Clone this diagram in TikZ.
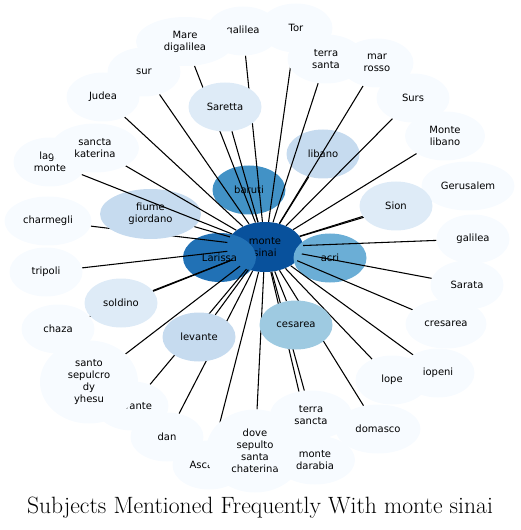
\documentclass[tikz,border=0pt]{standalone}
\usepackage{fontspec}
\newfontfamily\labelfont{DejaVu Sans}
\usetikzlibrary{shapes.geometric}

\definecolor{blues0}{RGB}{247,251,255}
\definecolor{blues1}{RGB}{222,235,247}
\definecolor{blues2}{RGB}{198,219,239}
\definecolor{blues3}{RGB}{158,202,225}
\definecolor{blues4}{RGB}{107,174,214}
\definecolor{blues5}{RGB}{66,146,198}
\definecolor{blues6}{RGB}{33,113,181}
\definecolor{blues7}{RGB}{8,81,156}

\pgfdeclarelayer{back}
\pgfdeclarelayer{links}
\pgfsetlayers{back,links,main}

\tikzset{
	bubble/.style={ellipse, inner sep=0pt, minimum width=54.75pt, minimum height=36.75pt, align=center, text=black, font=\labelfont\fontsize{7.5}{9}\selectfont},
	big/.style={minimum width=73.5pt, minimum height=62.25pt},
	link/.style={line width=0.8pt, black},
}

\begin{document}
\begin{tikzpicture}[x=0.75pt,y=0.75pt,yscale=-1,xscale=1]
	\useasboundingbox (0,0) rectangle (520,530);
	
	% Nodes under the lines
	\begin{pgfonlayer}{back}
	\node [bubble, fill=blues7, minimum width=57pt, minimum height=37.5pt] (ms) at (265,247) {monte\\sinai};
	\node [bubble, fill=blues6] (lar) at (219.5,257.5) {Larissa};
	\node [bubble, fill=blues4] (acr) at (330,258) {acri};
	\node [bubble, fill=blues5] (bar) at (249,190) {baruti};
	\node [bubble, fill=blues2] (lib) at (323,154) {libano};
	\end{pgfonlayer}
	
	% Nodes over the lines, top
	\node [bubble, fill=blues0] (gal1) at (243,31) {galilea};
	\node [bubble, fill=blues0] (tor) at (296,28) {Tor};
	\node [bubble, fill=blues0, minimum width=73.5pt] (mdg) at (185,41.5) {Mare\\digalilea};
	\node [bubble, fill=blues0] (sur) at (144,72) {sur};
	\node [bubble, fill=blues0] (jud) at (103,97) {Judea};
	\node [bubble, fill=blues0, minimum width=57.75pt] (tsa) at (326,59) {terra\\santa};
	\node [bubble, fill=blues0] (mro) at (377,63) {mar\\rosso};
	\node [bubble, fill=blues0] (surs) at (413,98) {Surs};
	\node [bubble, fill=blues0, minimum width=60pt] (mli) at (445,136) {Monte\\libano};
	% right
	\node [bubble, fill=blues0, minimum width=69.75pt] (ger) at (468,186) {Gerusalem};
	\node [bubble, fill=blues0] (gal2) at (473,239) {galilea};
	\node [bubble, fill=blues0] (sara) at (467,285) {Sarata};
	\node [bubble, fill=blues0, minimum width=60.75pt] (cre) at (446,324) {cresarea};
	\node [bubble, fill=blues0] (lop) at (392,380) {lope};
	\node [bubble, fill=blues0] (iop) at (438,373) {iopeni};
	\node [bubble, fill=blues0, minimum width=63.75pt] (dom) at (378,429) {domasco};
	% bottom
	\node [bubble, fill=blues0] (asc) at (209,465) {Ascalon};
	\node [bubble, fill=blues0] (dan) at (167,437) {dan};
	\node [bubble, fill=blues0, big] (dove) at (255,451) {dove\\sepulto\\santa\\chaterina};
	\node [bubble, fill=blues0, minimum width=60pt] (mda) at (315,460) {monte\\darabia};
	\node [bubble, fill=blues0, minimum width=61.5pt] (tsc) at (311,415) {terra\\sancta};
	\node [bubble, fill=blues0] (lev2) at (132,406) {Levante};
	\node [bubble, fill=blues0, big] (ssd) at (89,382) {santo\\sepulcro\\dy\\yhesu};
	% left
	\node [bubble, fill=blues0] (cha) at (58,329) {chaza};
	\node [bubble, fill=blues0] (tri) at (46,272) {tripoli};
	\node [bubble, fill=blues0, minimum width=65.25pt] (chm) at (48,221) {charmegli};
	\node [bubble, fill=blues0] (lag) at (50,162) {lago\\monte};
	\node [bubble, fill=blues0, minimum width=66pt] (ska) at (95,148) {sancta\\katerina};
	% middle ring
	\node [bubble, fill=blues1] (sar) at (225,107) {Saretta};
	\node [bubble, fill=blues1] (sio) at (396,206) {Sion};
	\node [bubble, fill=blues1] (sol) at (121,303) {soldino};
	\node [bubble, fill=blues2] (lev) at (199,337) {levante};
	\node [bubble, fill=blues3] (ces) at (296,325) {cesarea};
	
	\begin{pgfonlayer}{back}
	\draw [link] (ms) -- (chm);
	\node [bubble, fill=blues2, minimum width=75.75pt, minimum height=37.5pt] (fiu) at (150.5,214) {fiume\\giordano};
	\end{pgfonlayer}
	
	%Straight Lines
	\begin{pgfonlayer}{links}
	\draw [link] (ms) -- (bar);
	\draw [link] (ms) -- (lib);
	\draw [link] (ms) -- (fiu);
	\draw [link] (ms) -- (sar);
	\draw [link] (ms) -- (sio);
	\draw [link] (ms) -- (sol);
	\draw [link] (ms) -- (lev);
	\draw [link] (ms) -- (ces);
	\draw [link] (ms) -- (gal1);
	\draw [link] (ms) -- (tor);
	\draw [link] (ms) -- (mdg);
	\draw [link] (ms) -- (sur);
	\draw [link] (ms) -- (jud);
	\draw [link] (ms) -- (tsa);
	\draw [link] (ms) -- (mro);
	\draw [link] (ms) -- (surs);
	\draw [link] (ms) -- (mli);
	\draw [link] (ms) -- (ger);
	\draw [link] (ms) -- (gal2);
	\draw [link] (ms) -- (sara);
	\draw [link] (ms) -- (cre);
	\draw [link] (ms) -- (iop);
	\draw [link] (ms) -- (lop);
	\draw [link] (ms) -- (dom);
	\draw [link] (ms) -- (asc);
	\draw [link] (ms) -- (dan);
	\draw [link] (ms) -- (dove);
	\draw [link] (ms) -- (mda);
	\draw [link] (ms) -- (tsc);
	\draw [link] (ms) -- (lev2);
	\draw [link] (ms) -- (ssd);
	\draw [link] (ms) -- (cha);
	\draw [link] (ms) -- (tri);
	\draw [link] (ms) -- (lag);
	\draw [link] (ms) -- (ska);
	\end{pgfonlayer}
	
	% Text Node
	\node [font=\fontsize{17.7}{21}\selectfont] (title) at (260,508) {Subjects Mentioned Frequently With monte sinai};
	
\end{tikzpicture}
\end{document}
